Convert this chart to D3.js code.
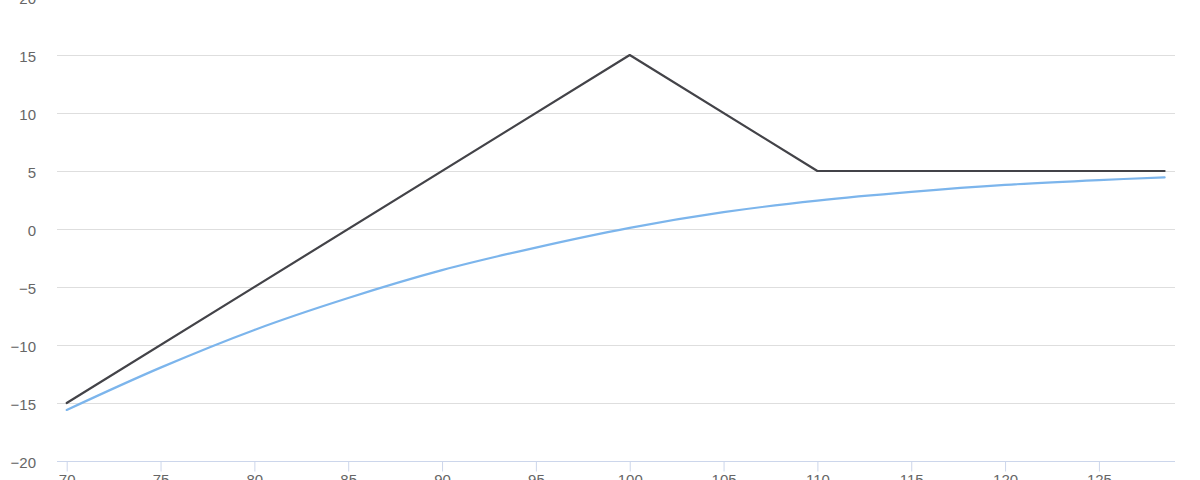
<!DOCTYPE html>
<html>
<head>
<meta charset="utf-8">
<script src="https://cdn.jsdelivr.net/npm/d3@7/dist/d3.min.js"></script>
<style>
  html, body { margin: 0; padding: 0; background: #fff; }
  svg { display: block; }
  text { font-family: "Liberation Sans", Arial, sans-serif; fill: #666; font-size: 15px; }
</style>
</head>
<body>
<svg id="chart" width="1200" height="480"></svg>
<script>
// Data
const payoffX = [70, 100, 110, 128.5];
const payoffY = [-15, 15, 5, 5];
const curveX = [70, 75, 80, 85, 90, 95, 100, 105, 110, 115, 120, 125, 128.5];
const curveY = [-15.6, -11.95, -8.7, -5.95, -3.55, -1.6, 0.1, 1.45, 2.45, 3.2, 3.8, 4.22, 4.45];
const xTicks = [70, 75, 80, 85, 90, 95, 100, 105, 110, 115, 120, 125];
const yTicks = [-20, -15, -10, -5, 0, 5, 10, 15, 20];

const svg = d3.select("#chart");
const plotLeft = 57, plotRight = 1175;

const x = d3.scaleLinear().domain([70, 128.5]).range([66.7, 1164.6]);
const y = d3.scaleLinear().domain([-20, 20]).range([461, -3]);

// Gridlines
svg.append("g").selectAll("line").data(yTicks.filter(d => d !== -20)).join("line")
  .attr("x1", plotLeft).attr("x2", plotRight)
  .attr("y1", d => y(d) + 0.5).attr("y2", d => y(d) + 0.5)
  .attr("stroke", "#dedede").attr("stroke-width", 1);

// Y labels
svg.append("g").selectAll("text").data(yTicks).join("text")
  .attr("x", 36).attr("y", d => y(d) + 1.5)
  .attr("text-anchor", "end").attr("dominant-baseline", "central")
  .text(d => d < 0 ? "\u2212" + Math.abs(d) : String(d));

// X axis
const xAxis = d3.axisBottom(x).tickValues(xTicks).tickSize(10).tickPadding(3).tickFormat(d => String(d));
const gx = svg.append("g").attr("transform", "translate(0,461.5)").call(xAxis);
gx.select(".domain").attr("d", `M${plotLeft},0H${plotRight}`).attr("stroke", "#ccd6eb");
gx.selectAll(".tick line").attr("stroke", "#ccd6eb");
gx.selectAll(".tick text").attr("fill", "#666").style("font-size", "15px")
  .style("font-family", "'Liberation Sans', Arial, sans-serif");

// Blue curve
svg.append("path")
  .datum(curveX.map((v, i) => [v, curveY[i]]))
  .attr("fill", "none").attr("stroke", "#7cb5ec").attr("stroke-width", 2.2)
  .attr("stroke-linejoin", "round").attr("stroke-linecap", "round")
  .attr("d", d3.line().x(d => x(d[0])).y(d => y(d[1])).curve(d3.curveCatmullRom.alpha(0.5)));

// Black payoff line
svg.append("path")
  .datum(payoffX.map((v, i) => [v, payoffY[i]]))
  .attr("fill", "none").attr("stroke", "#434348").attr("stroke-width", 2.2)
  .attr("stroke-linejoin", "round").attr("stroke-linecap", "round")
  .attr("d", d3.line().x(d => x(d[0])).y(d => y(d[1])));
</script>
</body>
</html>
